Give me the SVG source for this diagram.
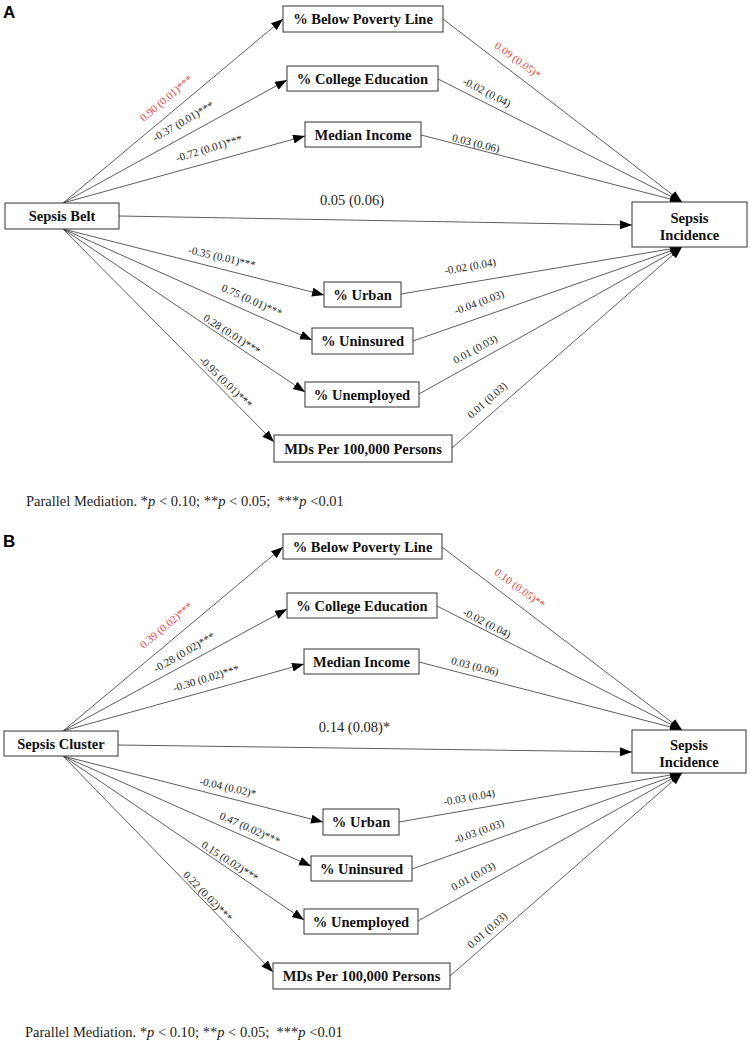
<svg xmlns="http://www.w3.org/2000/svg" width="750" height="1043" viewBox="0 0 750 1043">
<style>
.box{fill:#fff;stroke:#333;stroke-width:1}
.nt{font-family:"Liberation Serif",serif;font-weight:bold;font-size:14.5px;fill:#111;text-anchor:middle}
.ln{stroke:#333;stroke-width:0.8;fill:none;marker-end:url(#ah)}
.el{font-family:"Liberation Serif",serif;font-size:11px;fill:#222;text-anchor:middle}
.red{fill:#e0453b}
.big{font-family:"Liberation Serif",serif;font-size:14.5px;fill:#222;text-anchor:middle}
.fn{font-family:"Liberation Serif",serif;font-size:14.5px;fill:#222}
.pl{font-family:"Liberation Sans",Arial,sans-serif;font-weight:bold;font-size:17px;fill:#000}
</style>
<defs>
<marker id="ah" markerUnits="userSpaceOnUse" markerWidth="13" markerHeight="10" refX="12" refY="4.5" orient="auto">
<path d="M0,0 L12,4.5 L0,9 z" fill="#000"/>
</marker>
</defs>
<rect width="750" height="1043" fill="#fff"/>

<!-- Panel A -->
<text class="pl" x="3" y="18">A</text>
<g id="connectorsA">
<line class="ln" x1="63" y1="203" x2="283" y2="19"/>
<line class="ln" x1="63" y1="203" x2="287" y2="80"/>
<line class="ln" x1="63" y1="203" x2="305" y2="136"/>
<line class="ln" x1="119" y1="216" x2="632" y2="225"/>
<line class="ln" x1="63" y1="229" x2="324" y2="295"/>
<line class="ln" x1="63" y1="229" x2="312" y2="340"/>
<line class="ln" x1="63" y1="229" x2="305" y2="392"/>
<line class="ln" x1="63" y1="229" x2="274" y2="442"/>
<line class="ln" x1="443" y1="19" x2="682" y2="202"/>
<line class="ln" x1="438" y1="79" x2="682" y2="202"/>
<line class="ln" x1="421" y1="135" x2="682" y2="202"/>
<line class="ln" x1="401" y1="294" x2="682" y2="247"/>
<line class="ln" x1="413" y1="341" x2="682" y2="247"/>
<line class="ln" x1="419" y1="394" x2="682" y2="247"/>
<line class="ln" x1="452" y1="448" x2="682" y2="247"/>
<text class="el red" transform="translate(166,98) rotate(-40)" y="4">0.90 (0.01)***</text>
<text class="el" transform="translate(183,121) rotate(-30)" y="4">-0.37 (0.01)***</text>
<text class="el" transform="translate(209,148) rotate(-17)" y="4">-0.72 (0.01)***</text>
<text class="big" x="352" y="205">0.05 (0.06)</text>
<text class="el" transform="translate(222,257) rotate(13)" y="4">-0.35 (0.01)***</text>
<text class="el" transform="translate(252,300) rotate(24)" y="4">0.75 (0.01)***</text>
<text class="el" transform="translate(232,334) rotate(33)" y="4">0.28 (0.01)***</text>
<text class="el" transform="translate(226,382) rotate(44)" y="4">-0.95 (0.01)***</text>
<text class="el red" transform="translate(518,60) rotate(36)" y="4">0.09 (0.05)*</text>
<text class="el" transform="translate(487,92) rotate(27)" y="4">-0.02 (0.04)</text>
<text class="el" transform="translate(476,143) rotate(14)" y="4">0.03 (0.06)</text>
<text class="el" transform="translate(470,266) rotate(-10)" y="4">-0.02 (0.04)</text>
<text class="el" transform="translate(479,302) rotate(-20)" y="4">-0.04 (0.03)</text>
<text class="el" transform="translate(475,349) rotate(-29)" y="4">0.01 (0.03)</text>
<text class="el" transform="translate(487,400) rotate(-41)" y="4">0.01 (0.03)</text>
</g>
<g id="a-poverty"><rect class="box" x="283" y="6" width="160" height="26"/><text class="nt" x="363" y="24">% Below Poverty Line</text></g>
<g id="a-college"><rect class="box" x="287" y="66" width="151" height="25"/><text class="nt" x="362.5" y="83.5">% College Education</text></g>
<g id="a-income"><rect class="box" x="305" y="122" width="116" height="25"/><text class="nt" x="363" y="139.5">Median Income</text></g>
<g id="a-belt"><rect class="box" x="5" y="203" width="114" height="26"/><text class="nt" x="62" y="221">Sepsis Belt</text></g>
<g id="a-incidence"><rect class="box" x="632" y="202" width="115" height="45"/><text class="nt" x="689.5" y="223">Sepsis</text><text class="nt" x="689.5" y="239.5">Incidence</text></g>
<g id="a-urban"><rect class="box" x="324" y="282" width="77" height="25"/><text class="nt" x="362.5" y="299.5">% Urban</text></g>
<g id="a-uninsured"><rect class="box" x="312" y="328" width="101" height="26"/><text class="nt" x="362.5" y="346">% Uninsured</text></g>
<g id="a-unemployed"><rect class="box" x="305" y="382" width="114" height="25"/><text class="nt" x="362" y="399.5">% Unemployed</text></g>
<g id="a-mds"><rect class="box" x="274" y="435" width="178" height="27"/><text class="nt" x="363" y="453.5">MDs Per 100,000 Persons</text></g>
<text class="fn" x="26" y="506">Parallel Mediation. *<tspan font-style="italic">p</tspan> &lt; 0.10; **<tspan font-style="italic">p</tspan> &lt; 0.05; &#160;***<tspan font-style="italic">p</tspan> &lt;0.01</text>

<!-- Panel B -->
<text class="pl" x="3" y="547">B</text>
<g id="connectorsB">
<line class="ln" x1="63" y1="731" x2="283" y2="547"/>
<line class="ln" x1="63" y1="731" x2="287" y2="609"/>
<line class="ln" x1="63" y1="731" x2="304" y2="664"/>
<line class="ln" x1="118" y1="745" x2="632" y2="752"/>
<line class="ln" x1="63" y1="756" x2="323" y2="822"/>
<line class="ln" x1="63" y1="756" x2="311" y2="866"/>
<line class="ln" x1="63" y1="756" x2="304" y2="920"/>
<line class="ln" x1="63" y1="756" x2="273" y2="972"/>
<line class="ln" x1="442" y1="547" x2="682" y2="730"/>
<line class="ln" x1="437" y1="606" x2="682" y2="730"/>
<line class="ln" x1="419" y1="662" x2="682" y2="730"/>
<line class="ln" x1="399" y1="822" x2="682" y2="773"/>
<line class="ln" x1="412" y1="869" x2="682" y2="773"/>
<line class="ln" x1="418" y1="921" x2="682" y2="773"/>
<line class="ln" x1="450" y1="976" x2="682" y2="773"/>
<text class="el red" transform="translate(166,625) rotate(-40)" y="4">0.39 (0.02)***</text>
<text class="el" transform="translate(184,652) rotate(-30)" y="4">-0.28 (0.02)***</text>
<text class="el" transform="translate(206,678) rotate(-17)" y="4">-0.30 (0.02)***</text>
<text class="big" x="354.5" y="732">0.14 (0.08)*</text>
<text class="el" transform="translate(228,787) rotate(13)" y="4">-0.04 (0.02)*</text>
<text class="el" transform="translate(250,828) rotate(24)" y="4">0.47 (0.02)***</text>
<text class="el" transform="translate(230,861) rotate(33)" y="4">0.15 (0.02)***</text>
<text class="el" transform="translate(208,896) rotate(46)" y="4">0.22 (0.02)***</text>
<text class="el red" transform="translate(520,588) rotate(36)" y="4">0.10 (0.05)**</text>
<text class="el" transform="translate(487,623) rotate(27)" y="4">-0.02 (0.04)</text>
<text class="el" transform="translate(475,666) rotate(14)" y="4">0.03 (0.06)</text>
<text class="el" transform="translate(469,797) rotate(-10)" y="4">-0.03 (0.04)</text>
<text class="el" transform="translate(479,831) rotate(-20)" y="4">-0.03 (0.03)</text>
<text class="el" transform="translate(473,876) rotate(-29)" y="4">0.01 (0.03)</text>
<text class="el" transform="translate(487,930) rotate(-41)" y="4">0.01 (0.03)</text>
</g>
<g id="b-poverty"><rect class="box" x="283" y="534" width="159" height="25"/><text class="nt" x="362.5" y="551.5">% Below Poverty Line</text></g>
<g id="b-college"><rect class="box" x="287" y="593" width="150" height="25"/><text class="nt" x="362" y="610.5">% College Education</text></g>
<g id="b-income"><rect class="box" x="304" y="649" width="115" height="25"/><text class="nt" x="361.5" y="666.5">Median Income</text></g>
<g id="b-cluster"><rect class="box" x="4" y="731" width="114" height="25"/><text class="nt" x="61" y="748.5">Sepsis Cluster</text></g>
<g id="b-incidence"><rect class="box" x="632" y="730" width="114" height="43"/><text class="nt" x="689" y="750">Sepsis</text><text class="nt" x="689" y="766.5">Incidence</text></g>
<g id="b-urban"><rect class="box" x="323" y="809" width="76" height="26"/><text class="nt" x="361" y="827">% Urban</text></g>
<g id="b-uninsured"><rect class="box" x="311" y="856" width="101" height="25"/><text class="nt" x="361.5" y="873.5">% Uninsured</text></g>
<g id="b-unemployed"><rect class="box" x="304" y="909" width="114" height="25"/><text class="nt" x="361" y="926.5">% Unemployed</text></g>
<g id="b-mds"><rect class="box" x="273" y="963" width="177" height="26"/><text class="nt" x="361.5" y="981">MDs Per 100,000 Persons</text></g>
<text class="fn" x="25" y="1037">Parallel Mediation. *<tspan font-style="italic">p</tspan> &lt; 0.10; **<tspan font-style="italic">p</tspan> &lt; 0.05; &#160;***<tspan font-style="italic">p</tspan> &lt;0.01</text>
</svg>
